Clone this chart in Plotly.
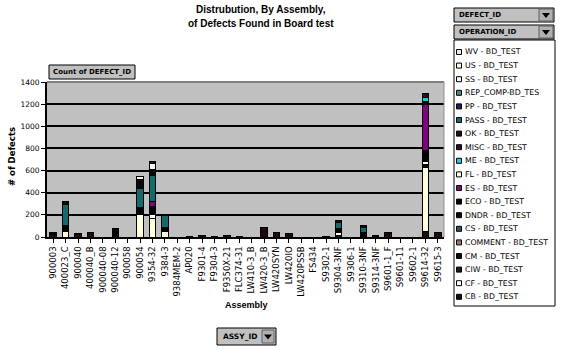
import plotly.graph_objects as go

W, H = 561, 350
L, R, T, B = 47, 444, 82, 237  # plot area in pixels

categories = ["900003", "400023_C", "900040", "400040_B", "900040-08", "900040-12", "900058",
              "900054", "9354-32", "9384-3", "9384MEM-2", "AP020", "F9301-4", "F9304-3",
              "F9350X-21", "FLC374-31", "LW410-3_B", "LW420-3_B", "LW420SYN", "LW420IO",
              "LW420PSSB", "FS434", "S9302-1", "S9304-3NF", "S9306-1", "S9310-3NF",
              "S9314-3NF", "S9601-1_F", "S9601-11", "S9602-1", "S9614-32", "S9615-3"]

# stacked series values (bottom -> top), one value per category
cb_vals   = [20, 0, 35, 40, 0, 10, 0, 0, 0, 0, 0, 8, 18, 8, 15, 8, 0, 85, 45, 35, 0, 0, 8, 12, 0, 0, 10, 45, 0, 0, 50, 40]
fl_vals   = [0, 50, 0, 0, 0, 0, 0, 200, 170, 50, 0, 0, 0, 0, 0, 0, 0, 0, 0, 0, 0, 0, 0, 0, 0, 0, 0, 0, 0, 0, 580, 0]
cm_vals   = [0, 0, 0, 0, 0, 0, 0, 0, 0, 0, 0, 0, 0, 0, 0, 0, 0, 0, 0, 0, 0, 0, 0, 0, 0, 0, 0, 0, 0, 0, 22, 0]
cf_vals   = [0, 0, 0, 0, 0, 10, 0, 0, 30, 0, 0, 0, 0, 0, 0, 0, 0, 0, 0, 0, 0, 0, 0, 28, 0, 0, 0, 0, 0, 0, 30, 0]
eco_vals  = [0, 50, 0, 0, 0, 20, 0, 70, 80, 40, 0, 0, 0, 0, 0, 0, 0, 0, 0, 0, 0, 0, 0, 40, 0, 42, 0, 0, 0, 0, 96, 0]
es_vals   = [0, 0, 0, 0, 0, 0, 0, 0, 40, 0, 0, 0, 0, 0, 0, 0, 0, 0, 0, 0, 0, 0, 0, 0, 0, 0, 0, 0, 0, 0, 415, 0]
pass_vals = [8, 190, 0, 0, 0, 10, 0, 170, 240, 100, 0, 0, 0, 0, 0, 0, 0, 0, 0, 0, 0, 0, 0, 50, 0, 48, 0, 0, 0, 0, 0, 0]
dndr_vals = [15, 30, 0, 0, 0, 30, 0, 50, 50, 5, 0, 0, 0, 0, 0, 0, 0, 0, 0, 0, 0, 0, 0, 15, 0, 10, 0, 0, 0, 0, 33, 0]
me_vals   = [0, 0, 0, 0, 0, 0, 0, 0, 0, 0, 0, 0, 0, 0, 0, 0, 0, 0, 0, 0, 0, 0, 0, 0, 0, 0, 0, 0, 0, 0, 36, 0]
ss_vals   = [0, 0, 0, 0, 0, 0, 0, 10, 0, 0, 0, 0, 0, 0, 0, 0, 0, 0, 0, 0, 0, 0, 0, 0, 0, 0, 0, 0, 0, 0, 0, 0]
ok_vals   = [0, 0, 0, 0, 0, 0, 0, 20, 0, 0, 0, 0, 0, 0, 0, 0, 0, 0, 0, 0, 0, 0, 0, 0, 0, 0, 0, 0, 0, 0, 0, 0]
us_vals   = [0, 0, 0, 0, 0, 0, 0, 30, 50, 0, 0, 0, 0, 0, 0, 0, 0, 0, 0, 0, 0, 0, 0, 0, 0, 0, 0, 0, 0, 0, 0, 0]
misc_vals = [0, 0, 0, 0, 0, 0, 0, 0, 25, 0, 0, 0, 0, 0, 0, 0, 0, 0, 0, 0, 0, 0, 0, 0, 0, 0, 0, 0, 0, 0, 36, 0]

legend_names = ["WV - BD_TEST", "US - BD_TEST", "SS - BD_TEST", "REP_COMP-BD_TES", "PP - BD_TEST",
                "PASS - BD_TEST", "OK - BD_TEST", "MISC - BD_TEST", "ME - BD_TEST", "FL - BD_TEST",
                "ES - BD_TEST", "ECO - BD_TEST", "DNDR - BD_TEST", "CS - BD_TEST", "COMMENT - BD_TEST",
                "CM - BD_TEST", "CIW - BD_TEST", "CF - BD_TEST", "CB - BD_TEST"]
legend_colors = ["#e8e8f4", "#f4f6e6", "#f8f8f8", "#3a9090", "#20205e", "#0e6e6e", "#2a0a0a", "#300a28",
                 "#22c8e8", "#ffffd8", "#800080", "#000000", "#0a0a0a", "#2f4f6a", "#a07070",
                 "#100808", "#1a1a1a", "#ffffff", "#1a0a10"]

stack = [("CB - BD_TEST", cb_vals), ("FL - BD_TEST", fl_vals), ("CM - BD_TEST", cm_vals),
         ("CF - BD_TEST", cf_vals), ("ECO - BD_TEST", eco_vals), ("ES - BD_TEST", es_vals),
         ("PASS - BD_TEST", pass_vals), ("DNDR - BD_TEST", dndr_vals), ("ME - BD_TEST", me_vals),
         ("SS - BD_TEST", ss_vals), ("OK - BD_TEST", ok_vals), ("US - BD_TEST", us_vals),
         ("MISC - BD_TEST", misc_vals)]

color_of = dict(zip(legend_names, legend_colors))

fig = go.Figure()
for name, vals in stack:
    fig.add_trace(go.Bar(x=categories, y=vals, name=name, width=0.52,
                         marker=dict(color=color_of[name], line=dict(color="black", width=1)),
                         showlegend=False))

pw, ph = R - L, B - T
def px(x):
    return (x - L) / pw
def py(y):
    return (B - y) / ph

shapes = []
ann = []
FONT = "DejaVu Sans"

def rect(x0, y0, x1, y1, fill, line="black", lw=1, layer="above"):
    shapes.append(dict(type="rect", xref="paper", yref="paper", x0=px(x0), x1=px(x1),
                       y0=py(y1), y1=py(y0), fillcolor=fill, line=dict(color=line, width=lw),
                       layer=layer))

def text(x, y, s, size=8, xa="left", bold=False, angle=0, family=FONT):
    ann.append(dict(xref="paper", yref="paper", x=px(x), y=py(y), text=("<b>%s</b>" % s) if bold else s,
                    showarrow=False, xanchor=xa, yanchor="middle", textangle=angle,
                    font=dict(family=family, size=size, color="black")))

def arrow_box(x0, y0, x1, y1):
    rect(x0, y0, x1, y1, "#b0b0b0", line="#606060", lw=1)
    cx, cy = (x0 + x1) / 2, (y0 + y1) / 2
    shapes.append(dict(type="path", xref="paper", yref="paper",
                       path="M %f %f L %f %f L %f %f Z" % (px(cx - 4), py(cy - 2), px(cx + 4), py(cy - 2), px(cx), py(cy + 3)),
                       fillcolor="black", line=dict(color="black", width=0)))

# top / right border of plot area (grey)
shapes.append(dict(type="line", xref="paper", yref="paper", x0=0, x1=1, y0=1, y1=1,
                   line=dict(color="#808080", width=2)))
shapes.append(dict(type="line", xref="paper", yref="paper", x0=1, x1=1, y0=0, y1=1,
                   line=dict(color="#909090", width=1)))

# title
text(261, 10, "Distrubution, By Assembly,", size=10, xa="center", bold=True, family="Liberation Sans")
text(261, 24, "of Defects Found in Board test", size=10, xa="center", bold=True, family="Liberation Sans")

# Count of DEFECT_ID button
rect(49, 65, 135, 79, "#c0c0c0", line="black", lw=1)
text(92, 72, "Count of DEFECT_ID", size=7, xa="center", bold=True)

# axis titles
text(12, 157, "# of Defects", size=8.5, xa="center", bold=True, angle=-90)
text(246, 305, "Assembly", size=9, xa="center", bold=True, family="Liberation Sans")

# ASSY_ID button
rect(217, 328, 276, 345, "#c0c0c0", line="black", lw=1)
text(221, 336.5, "ASSY_ID", size=7.5, bold=True)
arrow_box(262, 330, 274, 343)

# legend headers
rect(454, 8, 554, 22, "#c0c0c0", line="black", lw=1)
text(457, 15, "DEFECT_ID", size=7, bold=True)
arrow_box(539, 9, 553, 21)
rect(454, 25, 554, 39, "#c0c0c0", line="black", lw=1)
text(457, 32, "OPERATION_ID", size=7, bold=True)
arrow_box(539, 26, 553, 38)

# legend box
rect(454, 40, 555, 306, "white", line="black", lw=1)
for i, (nm, col) in enumerate(zip(legend_names, legend_colors)):
    yc = 52 + 13.6 * i
    rect(456.5, yc - 2.5, 461.5, yc + 2.5, col, line="black", lw=1)
    text(463, yc, nm, size=7.8)

fig.update_layout(
    width=W, height=H, autosize=False,
    margin=dict(l=L, r=W - R, t=T, b=H - B, pad=0),
    paper_bgcolor="white", plot_bgcolor="#c0c0c0",
    barmode="stack", bargap=0.48,
    showlegend=False,
    shapes=shapes, annotations=ann,
    font=dict(family=FONT, color="black"),
    xaxis=dict(type="category", categoryorder="array", categoryarray=categories,
               range=[-0.5, len(categories) - 0.5], tickangle=-90,
               tickfont=dict(family=FONT, size=8.5, color="black"),
               showline=True, linecolor="black", linewidth=2, ticks="outside",
               ticklen=4, tickcolor="black", showgrid=False, fixedrange=True),
    yaxis=dict(range=[0, 1400], dtick=200, tickfont=dict(family=FONT, size=7.5, color="black"),
               showline=True, linecolor="black", linewidth=2, ticks="outside", ticklen=4,
               tickcolor="black", showgrid=True, gridcolor="black", gridwidth=2,
               zeroline=False, fixedrange=True),
)

fig.write_html("out.html")
